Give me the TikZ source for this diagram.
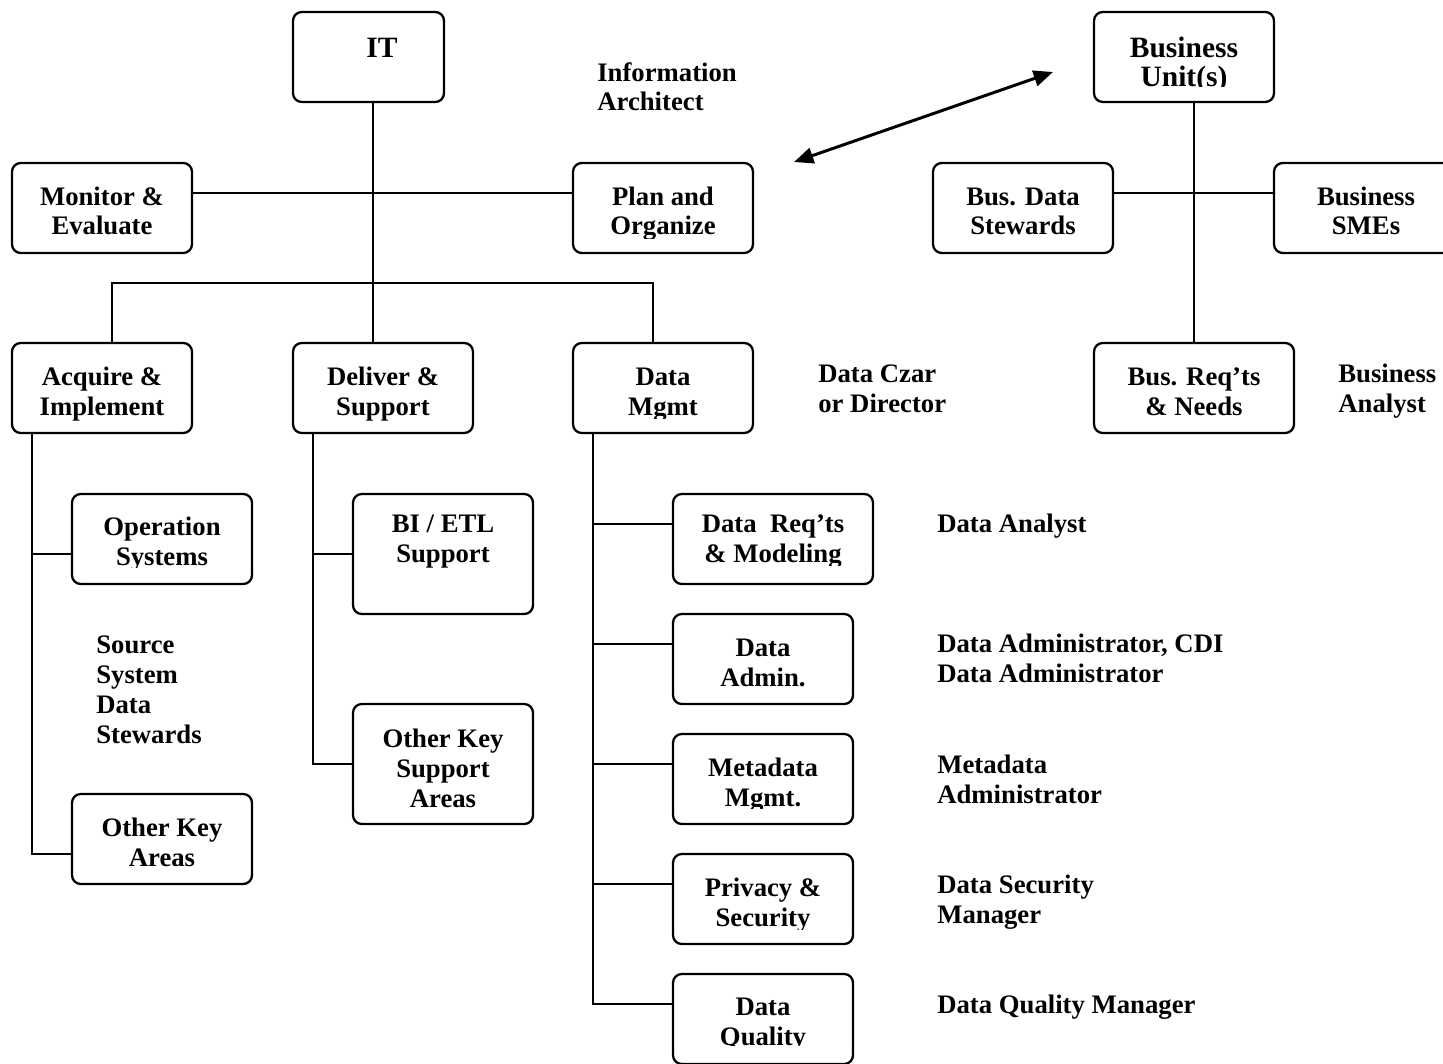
\documentclass[tikz,border=0pt]{standalone}
\usepackage{fontspec}
\setmainfont{Liberation Serif}
\usetikzlibrary{arrows.meta}
\begin{document}
\begin{tikzpicture}[x=0.02cm,y=-0.02cm,
  bx/.style={draw, rounded corners=5pt, line width=1.3pt, inner sep=0pt, outer sep=0pt},
  tx/.style={font=\bfseries\fontsize{15.2}{17}\selectfont, align=center, inner sep=0pt, anchor=base},
  big/.style={font=\bfseries\fontsize{16.8}{17}\selectfont, align=center, inner sep=0pt, anchor=base},
  lbl/.style={font=\bfseries\fontsize{15.2}{17}\selectfont, align=left, inner sep=0pt, anchor=base west},
  ln/.style={line width=1.2pt},
  dbl/.style={line width=1.7pt, {Triangle[length=11pt,width=9pt]}-{Triangle[length=11pt,width=9pt]}}]
\useasboundingbox (0,0) rectangle (1443,1064);
\newcommand\mkbox[5]{\node[bx, minimum width={(#4-#2)*0.02cm}, minimum height={(#5-#3)*0.02cm}] (#1) at ({(#2+#4)/2},{(#3+#5)/2}) {};}
% boxes
\mkbox{IT}{293}{12}{444}{102}
\mkbox{BU}{1094}{12}{1274}{102}
\mkbox{ME}{12}{163}{192}{253}
\mkbox{PO}{573}{163}{753}{253}
\mkbox{BD}{933}{163}{1113}{253}
\mkbox{BS}{1274}{163}{1454}{253}
\mkbox{AI}{12}{343}{192}{433}
\mkbox{DS}{293}{343}{473}{433}
\mkbox{DM}{573}{343}{753}{433}
\mkbox{BR}{1094}{343}{1294}{433}
\mkbox{OS}{72}{494}{252}{584}
\mkbox{OK}{72}{794}{252}{884}
\mkbox{BI}{353}{494}{533}{614}
\mkbox{OKS}{353}{704}{533}{824}
\mkbox{DR}{673}{494}{873}{584}
\mkbox{DA}{673}{614}{853}{704}
\mkbox{MD}{673}{734}{853}{824}
\mkbox{PS}{673}{854}{853}{944}
\mkbox{DQ}{673}{974}{853}{1064}
% texts in boxes (anchor = baseline of last line)
\node[big] (tIT) at (382,58) {IT};
\begin{scope}\clip (1094,12) rectangle (1274,87);
\node[big] (tBU) at (1184,87) {Business\\Unit(s)};
\end{scope}
\node[tx] (tME) at (102,235) {Monitor \&\\Evaluate};
\begin{scope}\clip (573,163) rectangle (753,239);
\node[tx] (tPO) at (663,235) {Plan and\\Organize};
\end{scope}
\node[tx] (tBD) at (1023,235) {Bus. Data\\Stewards};
\node[tx] (tBS) at (1366,235) {Business\\SMEs};
\node[tx] (tAI) at (102,415) {Acquire \&\\Implement};
\node[tx] (tDS) at (383,415) {Deliver \&\\Support};
\begin{scope}\clip (573,343) rectangle (753,418);
\node[tx] (tDM) at (663,415) {Data\\Mgmt};
\end{scope}
\node[tx] (tBR) at (1194,415) {Bus. Req’ts\\\& Needs};
\begin{scope}\clip (72,494) rectangle (252,567);
\node[tx] (tOS) at (162,565) {Operation\\Systems};
\end{scope}
\node[tx] (tOK) at (162,866) {Other Key\\Areas};
\node[tx] (tBI) at (443,562) {BI / ETL\\Support};
\node[tx] (tOKS) at (443,807) {Other Key\\Support\\Areas};
\begin{scope}\clip (673,494) rectangle (873,565);
\node[tx] (tDR) at (773,562) {Data\ \ Req’ts\\\& Modeling};
\end{scope}
\node[tx] (tDA) at (763,686) {Data\\Admin.};
\begin{scope}\clip (673,734) rectangle (853,808);
\node[tx] (tMD) at (763,806) {Metadata\\Mgmt.};
\end{scope}
\begin{scope}\clip (673,854) rectangle (853,929);
\node[tx] (tPS) at (763,926) {Privacy \&\\Security};
\end{scope}
\begin{scope}\clip (673,974) rectangle (853,1045);
\node[tx] (tDQ) at (763,1045) {Data\\Quality};
\end{scope}
% free labels
\node[lbl] (lIA) at (597,111) {Information\\Architect};
\node[lbl] (lDC) at (818,412) {Data Czar\\or Director};
\node[lbl] (lBA) at (1338,412) {Business\\Analyst};
\node[lbl] (lSS) at (96,743) {Source\\System\\Data\\Stewards};
\node[lbl] (lAn) at (937,532) {Data Analyst};
\node[lbl] (lAd) at (937,682) {Data Administrator, CDI\\Data Administrator};
\node[lbl] (lMA) at (937,803) {Metadata\\Administrator};
\node[lbl] (lSM) at (937,923) {Data Security\\Manager};
\node[lbl] (lQM) at (937,1013) {Data Quality Manager};
% connectors
\coordinate (jIT) at (373,283);
\coordinate (hL) at (112,283);
\coordinate (hR) at (653,283);
\draw[ln] (IT.south -| jIT) -- (jIT);
\draw[ln] ([yshift=0.3cm]ME.east) -- ([yshift=0.3cm]PO.west);
\draw[ln] (AI.north -| hL) -- (hL) -- (hR) -- (DM.north -| hR);
\draw[ln] (DS.north -| jIT) -- (jIT);
\draw[ln] (AI.south -| 32,0) |- ([yshift=-0.3cm]OK.west);
\draw[ln] ([yshift=-0.3cm]OS.west) -- ++(-40,0);
\draw[ln] (DS.south -| 313,0) |- (OKS.west);
\draw[ln] (BI.west) -- ++(-40,0);
\draw[ln] (DM.south -| 593,0) |- ([yshift=0.3cm]DQ.west);
\foreach \n in {DR,DA,MD,PS} {\draw[ln] ([yshift=0.3cm]\n.west) -- ++(-80,0);}
\draw[ln] (BU.south -| BR.north) -- (BR.north);
\draw[ln] ([yshift=0.3cm]BD.east) -- ([yshift=0.3cm]BS.west);
\coordinate (aL) at (794,162);
\coordinate (aR) at (1053,72);
\draw[dbl] (aL) -- (aR);
\end{tikzpicture}
\end{document}
